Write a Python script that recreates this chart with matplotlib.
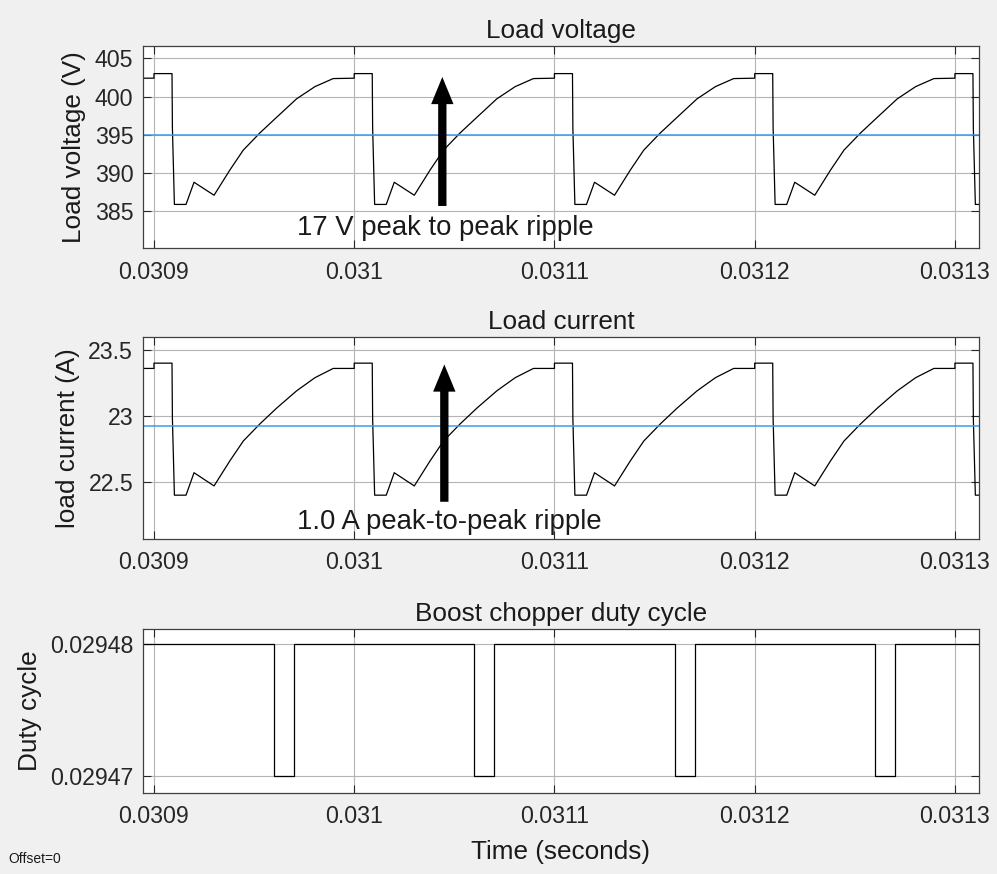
import numpy as np
import matplotlib.pyplot as plt

plt.rcParams['font.family'] = ['Liberation Sans', 'DejaVu Sans']

# time axis
t_ticks = [0.0309, 0.0310, 0.0311, 0.0312, 0.0313]
t_ticklabels = ['0.0309', '0.031', '0.0311', '0.0312', '0.0313']
t_lim = (0.0308945, 0.0313120)

# one switching period (offsets in units of 1e-5 s), repeated every 1e-4 s
cycle_starts = [0.0309, 0.0310, 0.0311, 0.0312, 0.0313]
period_off = [0, 0, 0.9, 0.92, 1.02, 1.6, 2.0, 3.0, 3.79, 4.46, 5.29, 6.13, 7.12, 8.04, 8.95]
v_period = [402.4, 403.0, 403.0, 395.9, 385.9, 385.9, 388.8, 387.1, 390.4, 393.0,
            395.25, 397.3, 399.7, 401.3, 402.35]
i_period = [23.36, 23.40, 23.40, 22.98, 22.40, 22.40, 22.57, 22.47, 22.66, 22.81,
            22.94, 23.06, 23.19, 23.29, 23.36]
v_start = 402.4
i_start = 23.36

# mean lines (blue)
v_mean_t = [0.03089, 0.03109, 0.03132]
v_mean = [394.95, 395.04, 395.04]
i_mean_t = [0.03089, 0.03132]
i_mean = [22.925, 22.925]

# duty cycle
duty_hi = 0.02948
duty_lo = 0.02947
pulse_starts = [0.030960, 0.031060, 0.031160, 0.031260]
pulse_width = 1.0e-5

v_ticks = [385, 390, 395, 400, 405]
i_ticks = [22.5, 23, 23.5]
i_ticklabels = ['22.5', '23', '23.5']
d_ticks = [0.02947, 0.02948]
d_ticklabels = ['0.02947', '0.02948']


def build(start_val, per_vals):
    t = [0.03089]
    y = [start_val]
    for c in cycle_starts:
        t += [c + o * 1e-5 for o in period_off]
        y += per_vals
    return t, y


tv, vv = build(v_start, v_period)
ti, ii = build(i_start, i_period)

td = [0.03089]
dd = [duty_hi]
for p in pulse_starts:
    td += [p, p, p + pulse_width, p + pulse_width]
    dd += [duty_hi, duty_lo, duty_lo, duty_hi]
td.append(0.03132)
dd.append(duty_hi)

dark = '#262626'
blue = '#3d9ded'
fig = plt.figure(figsize=(9.97, 8.74), dpi=100, facecolor='#f0f0f0')


def style(ax, title, ylabel):
    ax.set_facecolor('white')
    ax.grid(True, color='#b4b4b4', lw=0.8)
    ax.set_axisbelow(True)
    ax.tick_params(direction='in', top=True, right=True, length=6, width=0.8,
                   colors=dark, labelsize=16.7)
    ax.tick_params(axis='x', pad=9)
    ax.tick_params(axis='y', pad=7)
    for s in ax.spines.values():
        s.set_color('#404040')
        s.set_linewidth(0.9)
    ax.set_xlim(*t_lim)
    ax.set_xticks(t_ticks)
    ax.set_xticklabels(t_ticklabels)
    ax.set_title(title, fontsize=18.8, color='#1a1a1a', pad=6)
    ax.set_ylabel(ylabel, fontsize=18.8, color='#1a1a1a', labelpad=6)


arrow = 'simple,head_length=0.85,head_width=0.7,tail_width=0.26'

ax1 = fig.add_axes([0.1434, 0.7162, 0.8385, 0.2311])
ax1.plot(tv, vv, color='black', lw=0.9)
ax1.step(v_mean_t, v_mean, where='post', color=blue, lw=1.1)
ax1.set_ylim(380.2, 406.6)
ax1.set_yticks(v_ticks)
style(ax1, 'Load voltage', 'Load voltage (V)')
ax1.annotate('', xy=(0.031044, 402.56), xytext=(0.031044, 385.7),
             arrowprops=dict(arrowstyle=arrow, mutation_scale=23, color='black',
                             lw=0, shrinkA=0, shrinkB=0))
ax1.text(0.0309714, 382.8, '17 V peak to peak ripple', fontsize=19.8, color='#1a1a1a',
         ha='left', va='center')

ax2 = fig.add_axes([0.1434, 0.3833, 0.8385, 0.2311])
ax2.plot(ti, ii, color='black', lw=0.9)
ax2.plot(i_mean_t, i_mean, color=blue, lw=1.1)
ax2.set_ylim(22.068, 23.598)
ax2.set_yticks(i_ticks)
ax2.set_yticklabels(i_ticklabels)
style(ax2, 'Load current', 'load current (A)')
ax2.annotate('', xy=(0.031045, 23.39), xytext=(0.031045, 22.35),
             arrowprops=dict(arrowstyle=arrow, mutation_scale=23, color='black',
                             lw=0, shrinkA=0, shrinkB=0))
ax2.text(0.0309714, 22.2, '1.0 A peak-to-peak ripple', fontsize=19.8, color='#1a1a1a',
         ha='left', va='center')

ax3 = fig.add_axes([0.1434, 0.0927, 0.8385, 0.1876])
ax3.plot(td, dd, color='black', lw=0.9)
ax3.set_ylim(0.0294687, 0.0294811)
ax3.set_yticks(d_ticks)
ax3.set_yticklabels(d_ticklabels)
style(ax3, 'Boost chopper duty cycle', 'Duty cycle')
ax3.set_xlabel('Time (seconds)', fontsize=18.8, color='#1a1a1a', labelpad=8)

fig.text(0.008, 0.013, 'Offset=0', fontsize=10, color='#1a1a1a')

fig.savefig('out.png', dpi=100, facecolor=fig.get_facecolor())
